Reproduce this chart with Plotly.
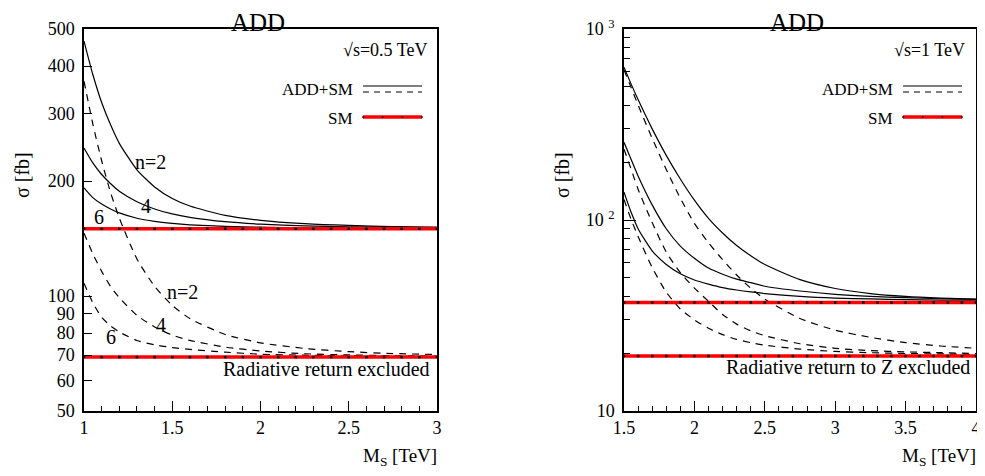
import plotly.graph_objects as go

# page body has an 8px margin, so the figure is sized to fit the window and
# every reference pixel position is converted with that offset
OFF = 8
W, H = 985 - OFF, 476 - OFF

# ---------------- data: left panel (sqrt(s)=0.5 TeV) ----------------
MS_L = [1.0, 1.05, 1.1, 1.15, 1.2, 1.3, 1.4, 1.5, 1.6, 1.8, 2.0, 2.25, 2.5, 2.75, 3.0]
L_SOLID_N2 = [465, 380, 321, 281, 251, 214, 193, 180, 172, 162.5, 157.8, 154.7, 153, 152, 151.4]
L_SOLID_N4 = [244, 223, 208, 197, 188, 176.5, 169, 164, 160.7, 156.5, 154.2, 152.6, 151.7, 151.2, 150.8]
L_SOLID_N6 = [192, 181, 174, 169, 165, 159.8, 156.8, 154.9, 153.6, 152.1, 151.4, 150.8, 150.5, 150.4, 150.3]
L_DASH_N2 = [365, 282, 226, 187, 160, 125, 106, 94.5, 87.3, 79.3, 75.4, 72.9, 71.5, 70.7, 70.3]
L_DASH_N4 = [146, 129, 116, 106, 99, 89, 83, 79, 76.5, 73.5, 71.8, 70.6, 70.1, 69.8, 69.6]
L_DASH_N6 = [108, 96, 88, 83.5, 80.5, 76.5, 74.5, 73.3, 72.5, 71.3, 70.4, 70.0, 69.7, 69.5, 69.4]

SM_X_L = [1.0, 1.1, 1.2, 1.3, 1.4, 1.5, 1.6, 1.7, 1.8, 1.9, 2.0,
          2.1, 2.2, 2.3, 2.4, 2.5, 2.6, 2.7, 2.8, 2.9, 3.0]
SM_L_INCL = [150, 150, 150, 150, 150, 150, 150, 150, 150, 150, 150,
             150, 150, 150, 150, 150, 150, 150, 150, 150, 150]
SM_L_EXCL = [69.2, 69.2, 69.2, 69.2, 69.2, 69.2, 69.2, 69.2, 69.2, 69.2, 69.2,
             69.2, 69.2, 69.2, 69.2, 69.2, 69.2, 69.2, 69.2, 69.2, 69.2]

# ---------------- data: right panel (sqrt(s)=1 TeV) ----------------
MS_R = [1.5, 1.55, 1.6, 1.7, 1.8, 1.9, 2.0, 2.1, 2.2, 2.3, 2.4, 2.5, 2.75, 3.0, 3.25, 3.5, 3.75, 4.0]
R_SOLID_N2 = [630, 516, 427, 300, 218, 164, 127, 102, 85.5, 73.5, 65, 58.5, 48.7, 43.8, 41.2, 39.8, 39.0, 38.5]
R_SOLID_N4 = [255, 208, 170, 120, 90, 73, 63, 56, 52, 49, 47, 45, 42.5, 40.8, 39.8, 39.2, 38.7, 38.4]
R_SOLID_N6 = [140, 110, 90, 69, 58.5, 52.3, 48.5, 46.2, 44.3, 43, 42, 41.2, 39.8, 39.0, 38.6, 38.3, 38.1, 38.0]
R_DASH_N2 = [610, 495, 400, 268, 184, 130, 96, 76, 62, 51.5, 44, 38.5, 30.5, 26.5, 24.3, 22.8, 21.9, 21.3]
R_DASH_N4 = [235, 185, 145, 97, 68, 53, 44, 37.5, 32, 28.5, 26.3, 24.8, 22.5, 21.3, 20.7, 20.4, 20.2, 20.0]
R_DASH_N6 = [128, 101, 82, 56.4, 41.9, 34.2, 30.0, 27.1, 25.1, 23.7, 22.8, 22.1, 21.1, 20.5, 20.2, 20.0, 19.9, 19.8]

SM_X_R = [1.5, 1.6, 1.7, 1.8, 1.9, 2.0, 2.1, 2.2, 2.3, 2.4, 2.5, 2.6, 2.7,
          2.8, 2.9, 3.0, 3.1, 3.2, 3.3, 3.4, 3.5, 3.6, 3.7, 3.8, 3.9, 4.0]
SM_R_INCL = [37, 37, 37, 37, 37, 37, 37, 37, 37, 37, 37, 37, 37,
             37, 37, 37, 37, 37, 37, 37, 37, 37, 37, 37, 37, 37]
SM_R_EXCL = [19.4, 19.4, 19.4, 19.4, 19.4, 19.4, 19.4, 19.4, 19.4, 19.4, 19.4, 19.4, 19.4,
             19.4, 19.4, 19.4, 19.4, 19.4, 19.4, 19.4, 19.4, 19.4, 19.4, 19.4, 19.4, 19.4]

L_XTICKS = [1, 1.5, 2, 2.5, 3]
L_XTEXT = ["1", "1.5", "2", "2.5", "3"]
L_YTICKS = [50, 60, 70, 80, 90, 100, 200, 300, 400, 500]
L_YTEXT = ["50", "60", "70", "80", "90", "100", "200", "300", "400", "500"]
R_XTICKS = [1.5, 2, 2.5, 3, 3.5, 4]
R_XTEXT = ["1.5", "2", "2.5", "3", "3.5", "4"]
R_YTICKS = [10, 100, 1000]
R_YTEXT = ["10", "10 <sup>2</sup>", "10 <sup>3</sup>"]
R_YMINOR = [20, 30, 40, 50, 60, 70, 80, 90, 200, 300, 400, 500, 600, 700, 800, 900]

FONT = "Liberation Serif, Times New Roman, serif"

def px(x):
    return (x - OFF) / W

def py(y):
    return 1 - (y - OFF) / H

fig = go.Figure()

def curve(x, y, dash, xa, ya):
    fig.add_trace(go.Scatter(
        x=x, y=y, mode="lines", xaxis=xa, yaxis=ya, showlegend=False,
        line=dict(color="black", width=1.2, dash=dash, shape="spline", smoothing=0.6),
        hoverinfo="skip"))

def smline(x, y, xa, ya):
    fig.add_trace(go.Scatter(
        x=x, y=y, mode="lines+markers", xaxis=xa, yaxis=ya, showlegend=False,
        line=dict(color="#ff0000", width=3.5),
        marker=dict(color="black", size=2.5, symbol="square"),
        hoverinfo="skip"))

DASH = "7px,6px"
for ys in (L_SOLID_N2, L_SOLID_N4, L_SOLID_N6):
    curve(MS_L, ys, "solid", "x", "y")
for ys in (L_DASH_N2, L_DASH_N4, L_DASH_N6):
    curve(MS_L, ys, DASH, "x", "y")
smline(SM_X_L, SM_L_INCL, "x", "y")
smline(SM_X_L, SM_L_EXCL, "x", "y")

for ys in (R_SOLID_N2, R_SOLID_N4, R_SOLID_N6):
    curve(MS_R, ys, "solid", "x2", "y2")
for ys in (R_DASH_N2, R_DASH_N4, R_DASH_N6):
    curve(MS_R, ys, DASH, "x2", "y2")
smline(SM_X_R, SM_R_INCL, "x2", "y2")
smline(SM_X_R, SM_R_EXCL, "x2", "y2")

axis_common = dict(showline=True, linecolor="black", linewidth=1.5, mirror=True,
                   showgrid=False, zeroline=False, ticks="inside", tickcolor="black",
                   tickwidth=1, automargin=False,
                   tickfont=dict(family=FONT, size=18, color="black"))

y0, y1 = py(411), py(29)

fig.update_layout(
    width=W, height=H, margin=dict(l=0, r=0, t=0, b=0, autoexpand=False),
    paper_bgcolor="white", plot_bgcolor="white", showlegend=False,
    xaxis=dict(domain=[px(84), px(437)], range=[1, 3], tickmode="array",
               tickvals=L_XTICKS, ticktext=L_XTEXT, ticklen=10,
               minor=dict(ticks="inside", dtick=0.1, ticklen=5, tickcolor="black"),
               anchor="y", **axis_common),
    yaxis=dict(domain=[y0, y1], type="log", range=[1.69897, 2.69897], tickmode="array",
               tickvals=L_YTICKS, ticktext=L_YTEXT, ticklen=8, anchor="x",
               ticklabelstandoff=4, **axis_common),
    xaxis2=dict(domain=[px(624), px(976)], range=[1.5, 4], tickmode="array",
                tickvals=R_XTICKS, ticktext=R_XTEXT, ticklen=10,
                minor=dict(ticks="inside", dtick=0.1, ticklen=5, tickcolor="black"),
                anchor="y2", **axis_common),
    yaxis2=dict(domain=[y0, y1], type="log", range=[1, 3], tickmode="array",
                tickvals=R_YTICKS, ticktext=R_YTEXT, ticklen=12, anchor="x2",
                ticklabelstandoff=4,
                minor=dict(ticks="inside", tickmode="array", tickvals=R_YMINOR,
                           ticklen=6, tickcolor="black"),
                **axis_common),
)

ann = []

def text(x, y, s, size=20, xanchor="center", angle=0, yanchor="middle"):
    ann.append(dict(x=px(x), y=py(y), xref="paper", yref="paper", text=s,
                    showarrow=False, xanchor=xanchor, yanchor=yanchor,
                    textangle=angle, borderpad=0,
                    font=dict(family=FONT, size=size, color="black")))

# titles (anchored to the top edge of the figure)
text(258, 8, "ADD", size=25, yanchor="top")
text(797, 8, "ADD", size=25, yanchor="top")
# axis titles
text(22, 175, "σ [fb]", size=20, angle=-90)
text(562, 175, "σ [fb]", size=20, angle=-90)
text(438, 457, "M<sub>S</sub> [TeV]", size=19, xanchor="right")
text(977, 457, "M<sub>S</sub> [TeV]", size=19, xanchor="right")
# energy labels
text(428, 50, "√s=0.5 TeV", size=18, xanchor="right")
text(966, 50, "√s=1 TeV", size=18, xanchor="right")
# legend texts
text(354, 89, "ADD+SM", size=17, xanchor="right")
text(354, 118, "SM", size=17, xanchor="right")
text(894, 89, "ADD+SM", size=17, xanchor="right")
text(894, 118, "SM", size=17, xanchor="right")
# curve labels left panel
text(150, 162, "n=2")
text(146, 206, "4")
text(99, 217, "6")
text(182, 292, "n=2")
text(161, 325, "4")
text(111, 337, "6")
# radiative return notes
text(431, 369, "Radiative return excluded", size=20, xanchor="right")
text(971, 367, "Radiative return to Z excluded", size=20, xanchor="right")

fig.update_layout(annotations=ann)

shapes = []

def seg(xa, xb, y, color="black", width=1.2, dash="solid"):
    shapes.append(dict(type="line", xref="paper", yref="paper",
                       x0=px(xa), x1=px(xb), y0=py(y), y1=py(y),
                       line=dict(color=color, width=width, dash=dash)))

for (xa, xb) in ((363, 422), (903, 962)):
    seg(xa, xb, 86)
    seg(xa, xb, 92, dash="6px,5px")
    seg(xa, xb, 117, color="#ff0000", width=3.5)
    for k in range(4):
        xd = xa + k * (xb - xa) / 3
        shapes.append(dict(type="rect", xref="paper", yref="paper",
                           x0=px(xd - 0.8), x1=px(xd + 0.8), y0=py(117.8), y1=py(116.2),
                           fillcolor="black", line=dict(width=0)))

fig.update_layout(shapes=shapes)

fig.write_html("out.html")
